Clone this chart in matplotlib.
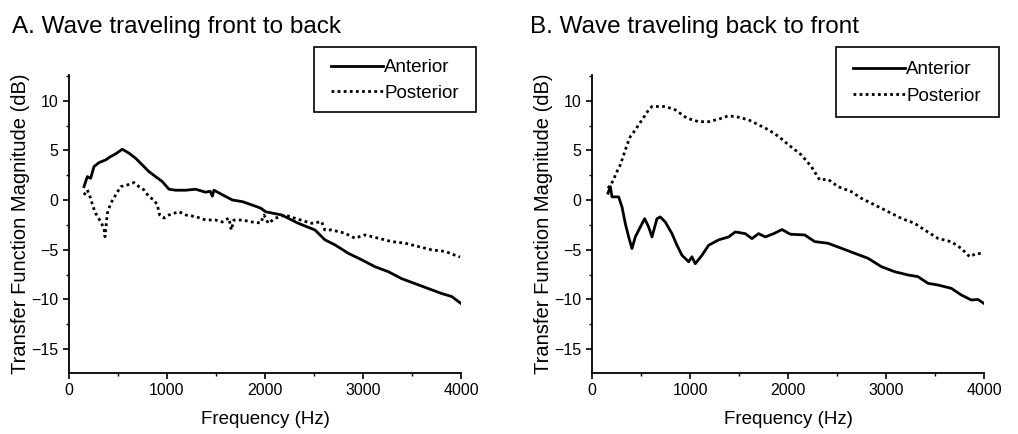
import matplotlib
matplotlib.use("Agg")
import matplotlib.pyplot as plt
from matplotlib.ticker import MultipleLocator
from matplotlib.patches import Rectangle

plt.rcParams['font.family'] = ['Liberation Sans', 'DejaVu Sans']

# Panel A: wave traveling front to back
a_ant_f = [153, 187, 221, 255, 306, 374, 425, 476, 544, 612, 680, 748, 816, 884, 952, 1020, 1088,
           1190, 1292, 1394, 1440, 1462, 1479, 1564, 1666, 1769, 1871, 1956, 2007, 2170, 2340,
           2510, 2612, 2714, 2850, 2986, 3122, 3258, 3394, 3530, 3667, 3803, 3905, 4000]
a_ant_db = [1.36, 2.37, 2.2, 3.38, 3.78, 4.05, 4.39, 4.66, 5.13, 4.73, 4.22, 3.55, 2.87, 2.37, 1.87,
            1.1, 1.0, 1.0, 1.1, 0.8, 0.9, 0.4, 1.0, 0.55, 0.02, -0.15, -0.5, -0.8, -1.17, -1.49,
            -2.33, -3.0, -4.0, -4.5, -5.35, -6.0, -6.7, -7.2, -7.9, -8.4, -8.9, -9.4, -9.7, -10.4]
a_post_f = [153, 187, 221, 245, 272, 323, 357, 367, 391, 425, 476, 527, 595, 663, 714, 765, 816,
            867, 901, 925, 969, 1020, 1122, 1190, 1292, 1394, 1496, 1564, 1632, 1656, 1683, 1768,
            1871, 1956, 1990, 2034, 2102, 2204, 2340, 2476, 2578, 2610, 2680, 2816, 2918, 3020,
            3156, 3292, 3428, 3565, 3700, 3837, 3990]
a_post_db = [0.52, 1.03, 0.19, -0.65, -1.32, -2.17, -2.83, -3.68, -1.32, -0.32, 0.52, 1.36, 1.53,
             1.77, 1.36, 1.03, 0.35, 0.02, -0.48, -1.49, -1.8, -1.49, -1.16, -1.49, -1.66, -1.99,
             -2.0, -2.2, -1.8, -3.0, -2.0, -2.0, -2.2, -2.3, -1.5, -2.33, -1.83, -1.49, -1.93,
             -2.33, -2.16, -3.0, -3.0, -3.33, -3.83, -3.5, -3.83, -4.17, -4.33, -4.67, -5.0,
             -5.16, -5.73]

# Panel B: wave traveling back to front
b_ant_f = [163, 187, 204, 272, 306, 340, 374, 408, 442, 493, 537, 578, 612, 663, 697, 748, 816,
           867, 918, 986, 1020, 1054, 1122, 1190, 1292, 1394, 1462, 1564, 1632, 1700, 1769, 1854,
           1939, 2024, 2170, 2272, 2408, 2544, 2680, 2816, 2952, 3088, 3224, 3326, 3428, 3530,
           3667, 3769, 3871, 3939, 4000]
b_ant_db = [0.7, 1.36, 0.33, 0.33, -0.68, -2.36, -3.7, -4.87, -3.7, -2.7, -1.86, -2.7, -3.7, -1.86,
            -1.69, -2.2, -3.37, -4.54, -5.55, -6.2, -5.7, -6.4, -5.55, -4.54, -4.0, -3.7, -3.2,
            -3.37, -3.87, -3.37, -3.7, -3.37, -2.96, -3.43, -3.5, -4.17, -4.34, -4.84, -5.35,
            -5.85, -6.69, -7.2, -7.53, -7.7, -8.37, -8.54, -8.88, -9.55, -10.05, -10.0, -10.4]
b_post_f = [163, 187, 221, 238, 289, 323, 357, 391, 442, 510, 578, 612, 748, 850, 969, 1088, 1190,
            1292, 1394, 1496, 1598, 1700, 1802, 1905, 2007, 2136, 2238, 2323, 2408, 2510, 2646,
            2748, 2884, 3020, 3156, 3292, 3394, 3530, 3667, 3769, 3854, 3922, 4000]
b_post_db = [1.2, 1.53, 2.03, 2.54, 3.55, 4.55, 5.56, 6.4, 7.08, 8.08, 9.09, 9.43, 9.43, 9.09,
             8.25, 7.9, 7.9, 8.15, 8.5, 8.35, 8.08, 7.58, 7.08, 6.4, 5.56, 4.56, 3.38, 2.04, 2.1,
             1.36, 0.86, 0.19, -0.48, -1.15, -1.83, -2.33, -3.0, -3.85, -4.19, -4.86, -5.7,
             -5.36, -5.4]

titles = ["A. Wave traveling front to back", "B. Wave traveling back to front"]
series_labels = ["Anterior", "Posterior"]

fig = plt.figure(figsize=(10.18, 4.34), dpi=100)
W, H = 1018, 434
axes_px = [(69, 461), (592, 984)]
top_px, bot_px = 75, 373
legend_box_px = [(314, 476, 47, 112), (836, 999, 47, 117)]   # frame l, r, t, b
legend_anchor_px = [(331, 59), (853, 61)]                     # handle start x, text top y
legend_spacing = [0.46, 0.52]
title_x = [12, 530]

data = [(a_ant_f, a_ant_db, a_post_f, a_post_db), (b_ant_f, b_ant_db, b_post_f, b_post_db)]

for i, (af, adb, pf, pdb) in enumerate(data):
    l, r = axes_px[i]
    ax = fig.add_axes([l / W, 1 - bot_px / H, (r - l) / W, (bot_px - top_px) / H])
    la, = ax.plot(af, adb, color='black', lw=2.0, ls='-')
    lp, = ax.plot(pf, pdb, color='black', lw=2.0, ls=(0, (1, 1.2)))
    ax.set_xlim(0, 4000)
    ax.set_ylim(-17.4, 12.6)
    ax.xaxis.set_major_locator(MultipleLocator(1000))
    ax.xaxis.set_minor_locator(MultipleLocator(500))
    ax.yaxis.set_major_locator(MultipleLocator(5))
    ax.yaxis.set_minor_locator(MultipleLocator(2.5))
    ax.set_yticks([-15, -10, -5, 0, 5, 10])
    ax.spines['top'].set_visible(False)
    ax.spines['right'].set_visible(False)
    ax.spines['left'].set_linewidth(1.3)
    ax.spines['bottom'].set_linewidth(1.3)
    ax.tick_params(which='major', direction='out', length=4, width=1.2, labelsize=11.5)
    ax.tick_params(which='minor', direction='out', length=2.5, width=1.0)
    ax.set_xlabel("Frequency (Hz)", fontsize=13.5, labelpad=9)
    ax.set_ylabel("Transfer Function Magnitude (dB)", fontsize=14.5, labelpad=1)

    # legend frame
    x0, x1, y0, y1 = legend_box_px[i]
    fig.patches.append(Rectangle((x0 / W, 1 - y1 / H), (x1 - x0) / W, (y1 - y0) / H,
                                 transform=fig.transFigure, fill=False,
                                 edgecolor='black', linewidth=1.2))
    hx, ty = legend_anchor_px[i]
    fig.legend([la, lp], series_labels, loc='upper left',
               bbox_to_anchor=(hx / W, 1 - ty / H), fontsize=13.5, frameon=False,
               borderpad=0, handlelength=2.75, handletextpad=0.1,
               labelspacing=legend_spacing[i], borderaxespad=0)
    fig.text(title_x[i] / W, 1 - 33 / H, titles[i], fontsize=17.5, ha='left', va='baseline')

fig.savefig("out.png", dpi=100)
